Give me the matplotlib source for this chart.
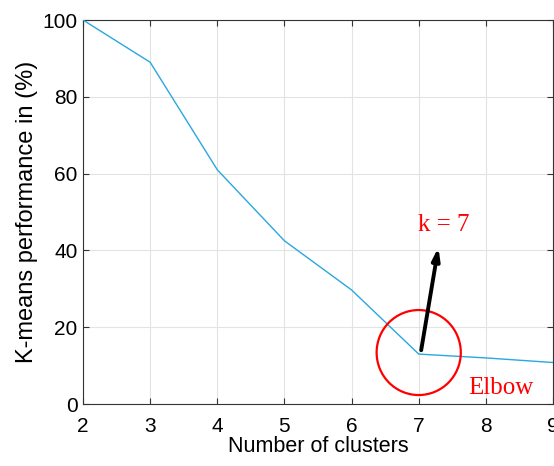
import matplotlib
matplotlib.use("Agg")
import matplotlib.pyplot as plt
from matplotlib.patches import Ellipse

clusters = [2, 3, 4, 5, 6, 7, 8, 9]
performance = [100, 89, 61, 42.5, 29.7, 13, 12, 10.8]
x_ticks = [2, 3, 4, 5, 6, 7, 8, 9]
y_ticks = [0, 20, 40, 60, 80, 100]

plt.rcParams['font.family'] = ['Liberation Sans', 'DejaVu Sans']

fig = plt.figure(figsize=(5.54, 4.66), dpi=100)
ax = fig.add_axes([83/554, 1 - 404/466, (553-83)/554, (404-20)/466])

ax.plot(clusters, performance, color='#2aa7de', lw=1.0, zorder=3)
ax.set_xlim(2, 9)
ax.set_ylim(0, 100)
ax.set_xticks(x_ticks)
ax.set_yticks(y_ticks)
ax.grid(True, color='#e3e3e3', lw=0.8)
ax.set_axisbelow(True)
ax.tick_params(direction='in', top=True, right=True, labelsize=15, length=4,
               color='#333333')
ax.tick_params(axis='x', pad=9)
ax.tick_params(axis='y', pad=4)
for s in ax.spines.values():
    s.set_color('#333333')
    s.set_linewidth(0.8)
ax.set_xlabel('Number of clusters', fontsize=15.5, labelpad=0)
ax.set_ylabel('K-means performance in (%)', fontsize=17, labelpad=3)

# Elbow annotation
ell = Ellipse((7, 13.4), width=84/67, height=85/3.84, fill=False,
              edgecolor='red', lw=1.6, zorder=4, clip_on=False)
ax.add_patch(ell)
ax.annotate('', xy=(7.3, 41.5), xytext=(7.03, 13.3),
            arrowprops=dict(arrowstyle='-|>,head_length=0.7,head_width=0.22',
                            color='black', lw=2.8), zorder=5)
ax.text(7.37, 46.5, 'k = 7', color='red', fontsize=18, family='Liberation Serif',
        ha='center', va='center')
ax.text(8.22, 4.2, 'Elbow', color='red', fontsize=18, family='Liberation Serif',
        ha='center', va='center')

fig.savefig('out.png', dpi=100)
